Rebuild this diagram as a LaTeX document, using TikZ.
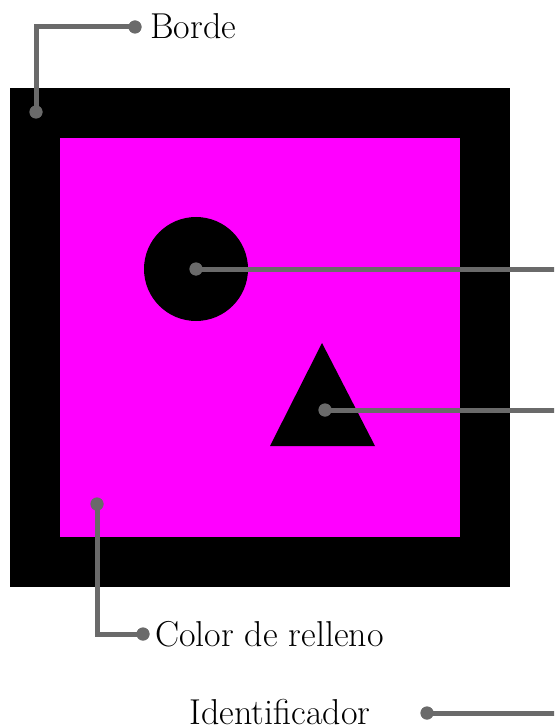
\documentclass[tikz,border=0pt]{standalone}
\definecolor{linegray}{RGB}{106,106,106}
\definecolor{fillmag}{RGB}{255,0,255}
\begin{document}
\begin{tikzpicture}[x=1pt,y=-1pt,
  dot/.style={circle,fill=linegray,inner sep=0pt,minimum size=13pt},
  callout/.style={draw=linegray,line width=5pt},
  lbl/.style={font=\fontsize{36}{42}\selectfont,inner sep=0pt}]
\useasboundingbox (0,0) rectangle (554,727);
\clip (0,0) rectangle (554,727);
% shapes
\fill[black] (10,88) rectangle (510,587);
\fill[fillmag] (60,138) rectangle (460,537);
\fill[black] (196,269) circle (52);
\fill[black] (322,343) -- (375,446) -- (270,446) -- cycle;
% anchor points
\node[dot] (borde1) at (36,112) {};
\node[dot] (borde2) at (135,27) {};
\node[dot] (relleno1) at (97,504) {};
\node[dot] (relleno2) at (143,634) {};
\node[dot] (circ) at (196,269) {};
\node[dot] (tri) at (325,410) {};
\node[dot] (ident) at (427,713) {};
\coordinate (circEnd) at (600,269);
\coordinate (triEnd) at (600,410);
\coordinate (identEnd) at (600,713);
% connectors
\draw[callout] (borde1.center) |- (borde2.center);
\draw[callout] (relleno1.center) |- (relleno2.center);
\draw[callout] (circ.center) -- (circEnd);
\draw[callout] (tri.center) -- (triEnd);
\draw[callout] (ident.center) -- (identEnd);
% redraw dots on top
\foreach \n in {borde1,borde2,relleno1,relleno2,circ,tri,ident}
  \fill[linegray] (\n) circle (6.5);
% labels
\node[lbl,anchor=west] (tBorde) at (150,26) {Borde};
\node[lbl,anchor=west] (tRelleno) at (155,634) {Color de relleno};
\node[lbl] (tIdent) at (280,712) {Identificador};
\end{tikzpicture}
\end{document}
